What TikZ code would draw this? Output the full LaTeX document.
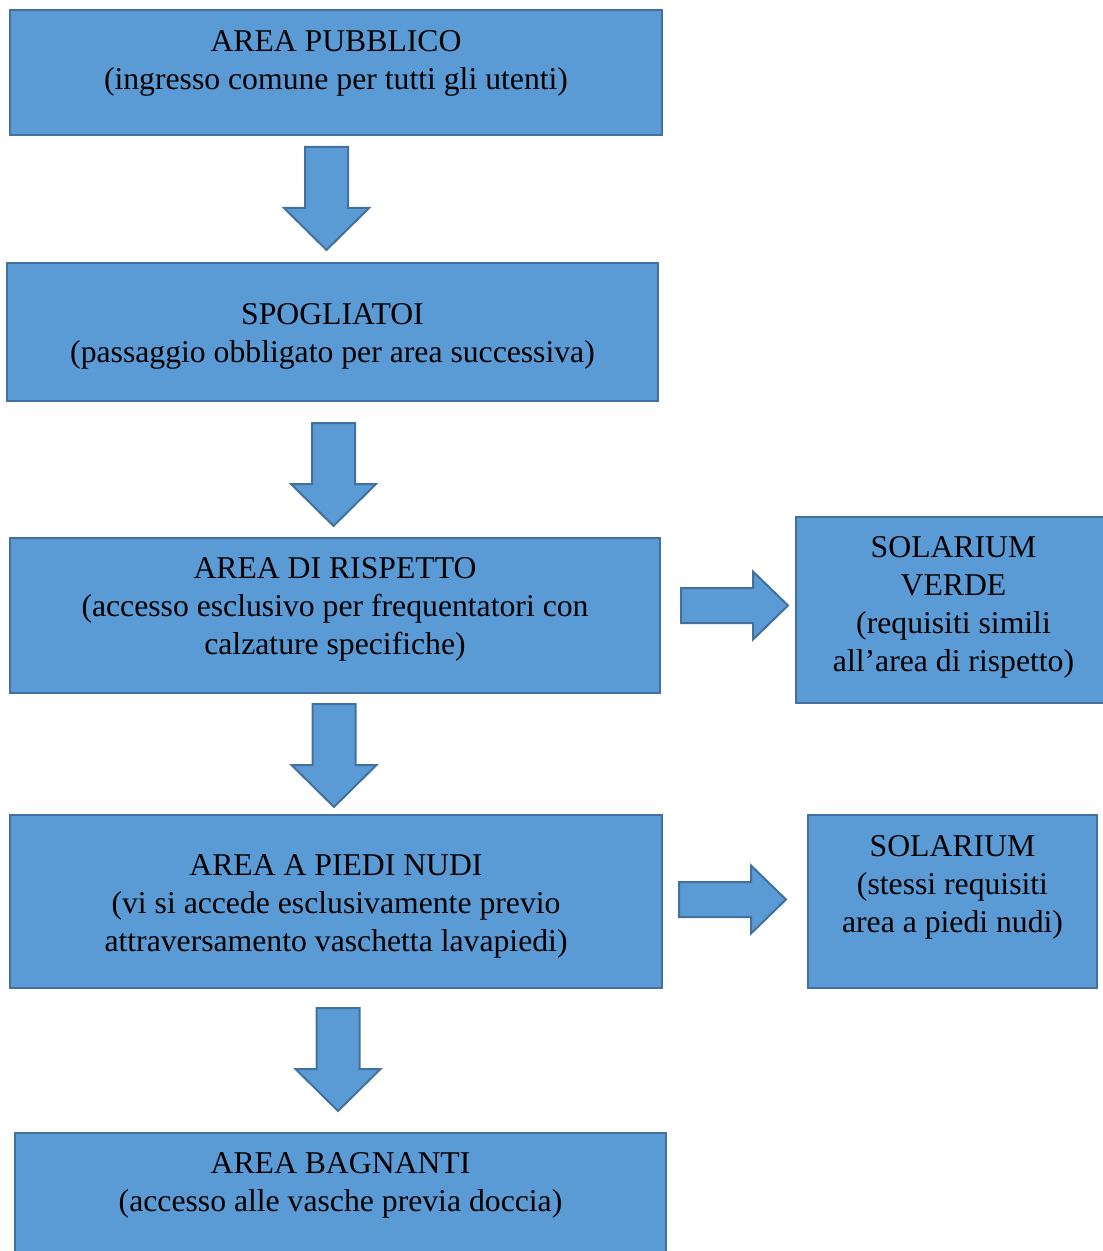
\documentclass[tikz,border=0pt]{standalone}
\usepackage{fontspec}
\setmainfont{Liberation Serif}
\usetikzlibrary{fit}
\definecolor{boxblue}{HTML}{5B9BD5}
\definecolor{edgeblue}{HTML}{41719C}

\begin{document}
\begin{tikzpicture}[x=0.5pt, y=-0.5pt,
  areabox/.style={draw=edgeblue, fill=boxblue, line width=1pt, inner sep=0pt},
  areatext/.style={anchor=north, align=center, inner sep=0pt,
    font=\fontsize{15.85pt}{19pt}\selectfont, execute at begin node=\strut},
  blockarrow/.style={draw=edgeblue, fill=boxblue, line width=1pt, line join=miter}]

  \useasboundingbox (0,0) rectangle (1102,1251);

  % Aree del percorso
  \node[areabox, fit={(10,10) (662,135)}] (pubblico) {};
  \node[areabox, fit={(7,263) (658,401)}] (spogliatoi) {};
  \node[areabox, fit={(10,538) (660,693)}] (rispetto) {};
  \node[areabox, fit={(796,517) (1111,703)}] (verde) {};
  \node[areabox, fit={(10,815) (662,988)}] (piedinudi) {};
  \node[areabox, fit={(808,815) (1097,988)}] (solarium) {};
  \node[areabox, fit={(15,1133) (666,1270)}] (bagnanti) {};

  % Testi
  \node[areatext] (pubblico-txt) at ([yshift=-10.7pt]pubblico.north)
    {AREA PUBBLICO\\(ingresso comune per tutti gli utenti)};
  \node[areatext] (spogliatoi-txt) at ([yshift=-20.7pt]spogliatoi.north)
    {SPOGLIATOI\\(passaggio obbligato per area successiva)};
  \node[areatext] (rispetto-txt) at ([yshift=-10.2pt]rispetto.north)
    {AREA DI RISPETTO\\(accesso esclusivo per frequentatori con\\calzature specifiche)};
  \node[areatext] (verde-txt) at ([yshift=-10.2pt]verde.north)
    {SOLARIUM\\VERDE\\(requisiti simili\\all’area di rispetto)};
  \node[areatext] (piedinudi-txt) at ([yshift=-20.2pt]piedinudi.north)
    {AREA A PIEDI NUDI\\(vi si accede esclusivamente previo\\attraversamento vaschetta lavapiedi)};
  \node[areatext] (solarium-txt) at ([yshift=-10.7pt]solarium.north)
    {SOLARIUM\\(stessi requisiti\\area a piedi nudi)};
  \node[areatext] (bagnanti-txt) at ([yshift=-10.2pt]bagnanti.north)
    {AREA BAGNANTI\\(accesso alle vasche previa doccia)};

  % Frecce verso il basso
  \foreach \c/\t in {326.5/147, 333.5/423, 334/704, 338/1008}
    \draw[blockarrow] (\c-21.5,\t) -- (\c+21.5,\t) -- (\c+21.5,\t+61) -- (\c+42.5,\t+61)
      -- (\c,\t+103) -- (\c-42.5,\t+61) -- (\c-21.5,\t+61) -- cycle;

  % Frecce verso i solarium
  \foreach \l/\m in {681/605.5, 679/899.5}
    \draw[blockarrow] (\l,\m-17.5) -- (\l+72,\m-17.5) -- (\l+72,\m-34) -- (\l+107,\m)
      -- (\l+72,\m+34) -- (\l+72,\m+17.5) -- (\l,\m+17.5) -- cycle;

\end{tikzpicture}
\end{document}
